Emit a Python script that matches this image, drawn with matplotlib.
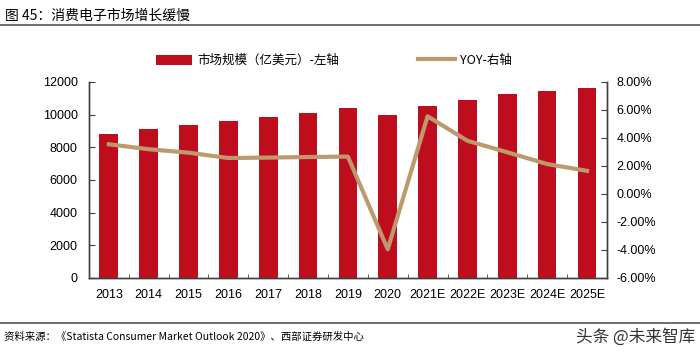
import matplotlib.pyplot as plt
import numpy as np

plt.rcParams['font.family'] = ['Liberation Sans', 'Noto Sans CJK SC', 'DejaVu Sans']

years = ["2013", "2014", "2015", "2016", "2017", "2018", "2019", "2020",
         "2021E", "2022E", "2023E", "2024E", "2025E"]
marketSize = [8810, 9100, 9370, 9610, 9860, 10120, 10390, 9980,
              10530, 10910, 11250, 11470, 11640]
yoy = [3.55, 3.2, 2.95, 2.57, 2.6, 2.64, 2.67, -3.95,
       5.55, 3.8, 2.98, 2.14, 1.65]

barColor = "#C00D1E"
lineColor = "#BC9A6E"
cjk = ['Noto Sans CJK SC', 'DejaVu Sans']

fig = plt.figure(figsize=(7, 3.58), dpi=100)
ax = fig.add_axes([0.127, 0.2235, 0.74, 0.5475])
ax2 = ax.twinx()

x = np.arange(len(years))
bars = ax.bar(x, marketSize, width=0.47, color=barColor, label="市场规模（亿美元）-左轴", zorder=2)
line, = ax2.plot(x, yoy, color=lineColor, lw=3, label="YOY-右轴", zorder=3)
ax.set_zorder(ax2.get_zorder() - 1)
ax2.patch.set_visible(False)

ax.set_xlim(-0.5, len(years) - 0.5)
ax.set_ylim(0, 12000)
ax.set_yticks(range(0, 12001, 2000))
ax2.set_ylim(-6, 8)
ax2.set_yticks(range(-6, 9, 2))
ax2.set_yticklabels([f"{v:.2f}%" for v in range(-6, 9, 2)])

ax.set_xticks(x)
ax.set_xticklabels(years)
ax.set_xticks(np.arange(0.5, len(years) - 1, 1), minor=True)
ax.tick_params(axis='x', which='major', length=0, labelsize=9, pad=8)
ax.tick_params(axis='x', which='minor', length=3, direction='in', color='#404040')
ax.tick_params(axis='y', direction='in', length=4, labelsize=9, pad=8, color='#404040')
ax2.tick_params(axis='y', direction='in', length=4, labelsize=9, pad=7, color='#404040')

for a in (ax, ax2):
  a.spines['top'].set_visible(False)
  for s in ('left', 'right', 'bottom'):
    a.spines[s].set_color('#404040')
    a.spines[s].set_linewidth(1)

leg = fig.legend(handles=[bars, line], loc='upper center', bbox_to_anchor=(0.477, 0.88),
                 ncol=2, frameon=False, handlelength=2.9, handleheight=0.9,
                 handletextpad=0.45, columnspacing=6.3, prop={'family': cjk, 'size': 9})

fig.text(0.007, 0.955, "图 45：消费电子市场增长缓慢", family=cjk, fontsize=10, va='center')
fig.add_artist(plt.Line2D([0.0, 1.0], [0.93, 0.93], color='#555555', lw=1.2))
fig.add_artist(plt.Line2D([0.0, 1.0], [0.098, 0.098], color='#555555', lw=1.2))
fig.text(0.005, 0.06, "资料来源：《Statista Consumer Market Outlook 2020》、西部证券研发中心",
         family=cjk, fontsize=7.5, va='center')
fig.text(0.993, 0.06, "头条 @未来智库", family=cjk, fontsize=12, va='center', ha='right', color='#333333')

fig.savefig("out.png", dpi=100)
